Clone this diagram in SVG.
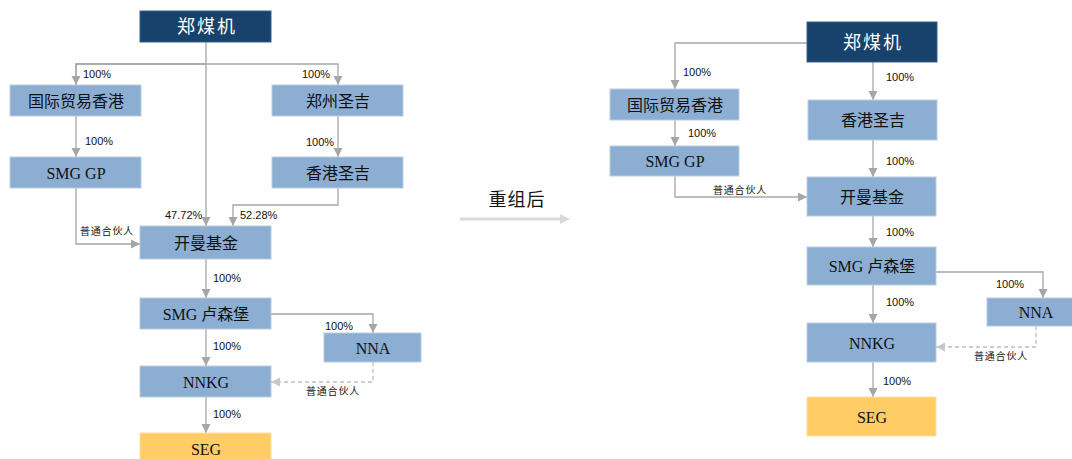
<svg xmlns="http://www.w3.org/2000/svg" width="1072" height="459" viewBox="0 0 1072 459">
<defs>
<marker id="ah" markerUnits="userSpaceOnUse" markerWidth="10" markerHeight="10" refX="9" refY="5" orient="auto">
<path d="M0,0.5 L9,5 L0,9.5 Z" fill="#a6a6a6"/>
</marker>
<marker id="ah2" markerUnits="userSpaceOnUse" markerWidth="10" markerHeight="10" refX="9" refY="5" orient="auto">
<path d="M0,0.5 L9,5 L0,9.5 Z" fill="#c8c8c8"/>
</marker>
</defs>
<style>
.b{fill:#8caed2;stroke:#b7cde4;stroke-width:1}
.d{fill:#17426b;stroke:#3a6089;stroke-width:1}
.y{fill:#ffcc66;stroke:#ffe0a0;stroke-width:1}
.t{font-family:"Liberation Serif","Noto Sans CJK SC",serif;font-size:16px;fill:#111111;text-anchor:middle;dominant-baseline:central}
.tw{font-family:"Liberation Serif","Noto Sans CJK SC",serif;font-size:18px;letter-spacing:2px;fill:#ffffff;text-anchor:middle;dominant-baseline:central}
.p{font-family:"Liberation Sans",Arial,sans-serif;font-size:11px;fill:#111111;dominant-baseline:central}
.s{font-family:"Liberation Serif","Noto Sans CJK SC",serif;font-size:10px;letter-spacing:0.8px;fill:#111111;dominant-baseline:central}
.c{fill:none;stroke:#a6a6a6;stroke-width:1.3}
.cd{fill:none;stroke:#bfbfbf;stroke-width:1.3;stroke-dasharray:4,3}
</style>

<g id="connectors">
<!-- left -->
<path class="c" d="M206,42 V226" marker-end="url(#ah)"/>
<path class="c" d="M76,85 V64 H338 V85" marker-end="url(#ah)"/>
<path class="c" d="M206,64 H76 V85" marker-end="url(#ah)"/>
<path class="c" d="M76,116 V157" marker-end="url(#ah)"/>
<path class="c" d="M338,116 V157" marker-end="url(#ah)"/>
<path class="c" d="M338,188 V205 H233 V226" marker-end="url(#ah)"/>
<path class="c" d="M76,188 V244 H140" marker-end="url(#ah)"/>
<path class="c" d="M206,259 V298" marker-end="url(#ah)"/>
<path class="c" d="M271,314 H373 V333" marker-end="url(#ah)"/>
<path class="c" d="M206,329 V366" marker-end="url(#ah)"/>
<path class="cd" d="M373,362 V382 H271" marker-end="url(#ah2)"/>
<path class="c" d="M206,397 V433" marker-end="url(#ah)"/>
<!-- middle -->
<path d="M460,219 H562" stroke="#d9d9d9" stroke-width="3" fill="none"/>
<path d="M560,214 L570,219 L560,224 Z" fill="#d9d9d9"/>
<!-- right -->
<path class="c" d="M807,43 H675 V89" marker-end="url(#ah)"/>
<path class="c" d="M873,62 V100" marker-end="url(#ah)"/>
<path class="c" d="M675,120 V146" marker-end="url(#ah)"/>
<path class="c" d="M873,140 V177" marker-end="url(#ah)"/>
<path class="c" d="M675,176 V197 H807" marker-end="url(#ah)"/>
<path class="c" d="M873,216 V247" marker-end="url(#ah)"/>
<path class="c" d="M936,272 H1043 V298" marker-end="url(#ah)"/>
<path class="c" d="M873,285 V323" marker-end="url(#ah)"/>
<path class="cd" d="M1036,326 V347 H936" marker-end="url(#ah2)"/>
<path class="c" d="M873,362 V397" marker-end="url(#ah)"/>
</g>

<g id="labels">
<text class="p" x="83" y="74">100%</text>
<text class="p" x="302" y="74">100%</text>
<text class="p" x="85" y="141">100%</text>
<text class="p" x="306" y="142">100%</text>
<text class="p" x="165" y="215">47.72%</text>
<text class="p" x="240" y="215">52.28%</text>
<text class="s" x="80" y="231">普通合伙人</text>
<text class="p" x="213" y="278">100%</text>
<text class="p" x="325" y="326">100%</text>
<text class="p" x="213" y="346">100%</text>
<text class="s" x="306" y="391">普通合伙人</text>
<text class="p" x="213" y="414">100%</text>
<text x="517" y="200" font-family="'Liberation Serif','Noto Sans CJK SC',serif" font-size="18" letter-spacing="1" fill="#111111" text-anchor="middle" dominant-baseline="central">重组后</text>
<text class="p" x="683" y="72">100%</text>
<text class="p" x="886" y="77">100%</text>
<text class="p" x="688" y="133">100%</text>
<text class="p" x="886" y="161">100%</text>
<text class="s" x="713" y="190">普通合伙人</text>
<text class="p" x="886" y="232">100%</text>
<text class="p" x="996" y="284">100%</text>
<text class="p" x="886" y="302">100%</text>
<text class="s" x="974" y="356">普通合伙人</text>
<text class="p" x="883" y="381">100%</text>
</g>

<g id="L-zmj"><rect class="d" x="140" y="11" width="131" height="31"/><text class="tw" x="207" y="27">郑煤机</text></g>
<g id="L-gjmy"><rect class="b" x="10" y="85" width="131" height="31"/><text class="t" x="76" y="101">国际贸易香港</text></g>
<g id="L-zzsj"><rect class="b" x="272" y="85" width="131" height="31"/><text class="t" x="338" y="101">郑州圣吉</text></g>
<g id="L-smggp"><rect class="b" x="10" y="157" width="131" height="31"/><text class="t" x="76" y="173">SMG  GP</text></g>
<g id="L-xgsj"><rect class="b" x="272" y="157" width="131" height="31"/><text class="t" x="338" y="173">香港圣吉</text></g>
<g id="L-kmjj"><rect class="b" x="140" y="226" width="131" height="33"/><text class="t" x="206" y="243">开曼基金</text></g>
<g id="L-smglsb"><rect class="b" x="140" y="298" width="131" height="31"/><text class="t" x="206" y="314">SMG 卢森堡</text></g>
<g id="L-nna"><rect class="b" x="324" y="333" width="97" height="29"/><text class="t" x="373" y="348">NNA</text></g>
<g id="L-nnkg"><rect class="b" x="140" y="366" width="131" height="31"/><text class="t" x="206" y="382">NNKG</text></g>
<g id="L-seg"><rect class="y" x="140" y="433" width="131" height="30"/><text class="t" x="206" y="449">SEG</text></g>

<g id="R-zmj"><rect class="d" x="807" y="22" width="130" height="40"/><text class="tw" x="873" y="43">郑煤机</text></g>
<g id="R-gjmy"><rect class="b" x="610" y="89" width="129" height="31"/><text class="t" x="675" y="105">国际贸易香港</text></g>
<g id="R-smggp"><rect class="b" x="610" y="146" width="129" height="30"/><text class="t" x="675" y="161">SMG  GP</text></g>
<g id="R-xgsj"><rect class="b" x="808" y="100" width="129" height="40"/><text class="t" x="873" y="120">香港圣吉</text></g>
<g id="R-kmjj"><rect class="b" x="807" y="177" width="129" height="39"/><text class="t" x="872" y="197">开曼基金</text></g>
<g id="R-smglsb"><rect class="b" x="807" y="247" width="129" height="38"/><text class="t" x="872" y="266">SMG 卢森堡</text></g>
<g id="R-nna"><rect class="b" x="987" y="298" width="90" height="28"/><text class="t" x="1036" y="312">NNA</text></g>
<g id="R-nnkg"><rect class="b" x="807" y="323" width="129" height="39"/><text class="t" x="872" y="343">NNKG</text></g>
<g id="R-seg"><rect class="y" x="807" y="397" width="129" height="39"/><text class="t" x="872" y="417">SEG</text></g>
</svg>
